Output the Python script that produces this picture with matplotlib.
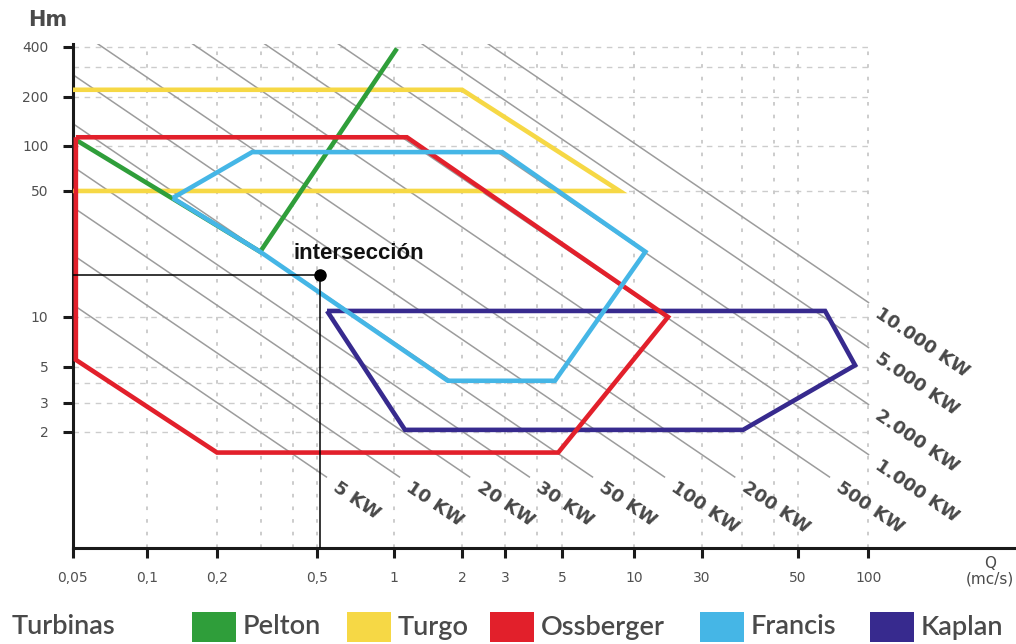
import numpy as np
import matplotlib
matplotlib.use("Agg")
import matplotlib.pyplot as plt
from matplotlib.patches import Rectangle

# ---------------------------------------------------------------------------
# Axis ticks (caudal Q in m3/s, salto H in m)
Q_TICKS = [0.05, 0.1, 0.2, 0.5, 1, 2, 3, 5, 10, 30, 50, 100]
Q_TICK_LABELS = ["0,05", "0,1", "0,2", "0,5", "1", "2", "3", "5", "10", "30", "50", "100"]
H_TICKS = [2, 3, 5, 10, 50, 100, 200, 400]
H_TICK_LABELS = ["2", "3", "5", "10", "50", "100", "200", "400"]

# grid values
Q_GRID = [0.1, 0.2, 0.3, 0.4, 0.5, 1, 2, 3, 4, 5, 10, 30, 37, 44, 50, 100]
H_GRID = [2, 3, 4, 5, 10, 50, 100, 200, 300, 400]

# turbine application ranges (Q, H)
pelton_q = [0.052, 0.297, 1.03]
pelton_h = [108, 23, 390]

turgo_q = [0.05, 2.0, 8.7, 0.05]
turgo_h = [220, 220, 50, 50]

ossberger_q = [0.0515, 1.14, 17.3, 4.83, 0.2, 0.0515, 0.0515]
ossberger_h = [113, 113, 10, 1.5, 1.5, 5.5, 113]

francis_q = [0.129, 0.276, 2.92, 12.0, 4.69, 1.73, 0.297, 0.129]
francis_h = [45.7, 91, 91, 23, 4.1, 4.1, 23, 45.7]

kaplan_q = [0.547, 65.3, 87.9, 37.3, 1.118, 0.547]
kaplan_h = [10.8, 10.8, 5.1, 2.06, 2.06, 10.8]

# constant-power lines: label and lower/right end point (Q, H)
power_labels = ["5 KW", "10 KW", "20 KW", "30 KW", "50 KW", "100 KW", "200 KW",
                "500 KW", "1.000 KW", "2.000 KW", "5.000 KW", "10.000 KW"]
power_end_q = [0.547, 1.063, 2.16, 3.75, 6.74, 16.5, 35.8, 68.6, 101, 101, 101, 101]
power_end_h = [1.06, 1.06, 1.06, 1.06, 1.06, 1.06, 1.06, 1.06, 1.45, 2.92, 6.49, 11.96]

# worked example
example_q = 0.515
example_h = 17.0

turbine_names = ["Pelton", "Turgo", "Ossberger", "Francis", "Kaplan"]

# ---------------------------------------------------------------------------
# non-uniform axis: piecewise logarithmic between the printed ticks
Q_UNITS = [0, 74.3, 144.3, 244.3, 321.3, 389.3, 432.3, 489.3, 561.3, 629.3, 725.3, 795.3]
H_UNITS = [116, 145, 181.3, 231, 357, 402, 451.3, 501.3]


def piecewise_log_scale(values, units):
    lv = np.log10(np.asarray(values, float))
    u = np.asarray(units, float)
    s_lo = (u[1] - u[0]) / (lv[1] - lv[0])
    s_hi = (u[-1] - u[-2]) / (lv[-1] - lv[-2])

    def forward(v):
        v = np.asarray(v, float)
        lx = np.log10(np.clip(v, 1e-12, None))
        out = np.interp(lx, lv, u)
        out = np.where(lx < lv[0], u[0] + (lx - lv[0]) * s_lo, out)
        out = np.where(lx > lv[-1], u[-1] + (lx - lv[-1]) * s_hi, out)
        return out

    def inverse(p):
        p = np.asarray(p, float)
        out = np.interp(p, u, lv)
        out = np.where(p < u[0], lv[0] + (p - u[0]) / s_lo, out)
        out = np.where(p > u[-1], lv[-1] + (p - u[-1]) / s_hi, out)
        return 10.0 ** out

    return forward, inverse


colors = {
    "Pelton": "#2f9e3a",
    "Turgo": "#f6d845",
    "Ossberger": "#e2202b",
    "Francis": "#45b6e6",
    "Kaplan": "#372a8e",
}
TEXT_GREY = "#4a4a4a"
NUM_FONT = ["DejaVu Sans"]
LEGEND_FONT = ["Lato", "DejaVu Sans"]

W, H = 1016, 644
fig = plt.figure(figsize=(W / 100, H / 100), dpi=100)
ax = fig.add_axes([72.7 / W, (H - 548) / H, (1015 - 72.7) / W, (548 - 44) / H])

ax.set_xscale("function", functions=piecewise_log_scale(Q_TICKS, Q_UNITS))
ax.set_yscale("function", functions=piecewise_log_scale(H_TICKS, H_UNITS))
ax.set_xlim(0.05, 428)
ax.set_ylim(0.395, 415)

for side in ("top", "right"):
    ax.spines[side].set_visible(False)
for side in ("left", "bottom"):
    ax.spines[side].set_linewidth(2.2)
    ax.spines[side].set_color("#1a1a1a")

ax.set_xticks(Q_TICKS, Q_TICK_LABELS)
ax.set_yticks(H_TICKS, H_TICK_LABELS)
ax.minorticks_off()
ax.tick_params(axis="both", direction="out", length=7.5, width=2.2, color="#1a1a1a",
               labelcolor="#505050", labelsize=10)
ax.tick_params(axis="x", pad=9)
ax.tick_params(axis="y", pad=10)
for lab in ax.get_xticklabels() + ax.get_yticklabels():
    lab.set_fontfamily(NUM_FONT)

# grid
ax.hlines(H_GRID, 0.05, 100, colors="#cccccc", linestyles=(0, (4, 4)), lw=1.0, zorder=1)
ax.vlines(Q_GRID, 0.395, 400, colors="#c8c8c8", linestyles=(0, (2, 5)), lw=1.3, zorder=1)

# constant-power lines, straight on screen, running up-left out of the frame
DIAG_SLOPE = 0.68
direction = np.array([1.0, -DIAG_SLOPE]) / np.hypot(1.0, DIAG_SLOPE)
to_data = ax.transData.inverted()
for lab, q, h in zip(power_labels, power_end_q, power_end_h):
    end_disp = ax.transData.transform((q, h))
    start_disp = end_disp - 1600 * direction
    qs, hs = to_data.transform(start_disp)
    ax.plot([qs, q], [hs, h], color="#9c9c9c", lw=1.1, zorder=2, solid_capstyle="butt")
    off = 8 * direction + np.array([1.5, -4.0])
    ax.annotate(lab, xy=(q, h), xytext=(off[0] * 0.72, off[1] * 0.72),
                textcoords="offset points", rotation=-np.degrees(np.arctan(DIAG_SLOPE)),
                rotation_mode="anchor", ha="left", va="center", fontsize=13,
                fontweight="bold", family=NUM_FONT, color="#484848",
                annotation_clip=False)

# turbine ranges
line_kw = dict(lw=3.3, solid_joinstyle="miter", solid_capstyle="butt")
ax.plot(turgo_q, turgo_h, color=colors["Turgo"], zorder=3, **line_kw)
ax.plot(pelton_q, pelton_h, color=colors["Pelton"], zorder=4, **line_kw)
ax.plot(kaplan_q, kaplan_h, color=colors["Kaplan"], zorder=5, **line_kw)
ax.plot(ossberger_q, ossberger_h, color=colors["Ossberger"], zorder=6, **line_kw)
ax.plot(francis_q, francis_h, color=colors["Francis"], zorder=7, **line_kw)

# worked example: reading lines and point
ax.plot([0.05, example_q], [example_h, example_h], color="black", lw=1.1, zorder=8)
ax.plot([example_q, example_q], [0.395, example_h], color="black", lw=1.1, zorder=8)
ax.plot([example_q], [example_h], "o", color="black", ms=8, zorder=9)
ax.annotate("intersección", xy=(example_q, example_h), xytext=(-19.5, 11.5),
            textcoords="offset points", ha="left", va="baseline", fontsize=16,
            fontweight="bold", family=["Liberation Sans", "DejaVu Sans"], color="#111111")

# axis titles
fig.text(28 / W, 1 - 20 / H, "Hm", ha="left", va="center", fontsize=15,
         fontweight="bold", family=NUM_FONT, color=TEXT_GREY)
fig.text(990 / W, 1 - 571 / H, "Q\n(mc/s)", ha="center", va="center", fontsize=11,
         family=NUM_FONT, color=TEXT_GREY, linespacing=1.0)

# legend strip
fig.text(12 / W, 1 - 627 / H, "Turbinas", ha="left", va="center", fontsize=19.5,
         fontweight="semibold", family=LEGEND_FONT, color=TEXT_GREY)
swatch_x = [192, 347, 490, 700, 870]
for name, sx in zip(turbine_names, swatch_x):
    fig.add_artist(Rectangle((sx / W, 1 - 642 / H), 44 / W, 30 / H,
                             transform=fig.transFigure, facecolor=colors[name],
                             edgecolor="none"))
    fig.text((sx + 51) / W, 1 - 627 / H, name, ha="left", va="center", fontsize=19.5,
             fontweight="semibold", family=LEGEND_FONT, color=TEXT_GREY)

fig.savefig("out.png", dpi=100)
